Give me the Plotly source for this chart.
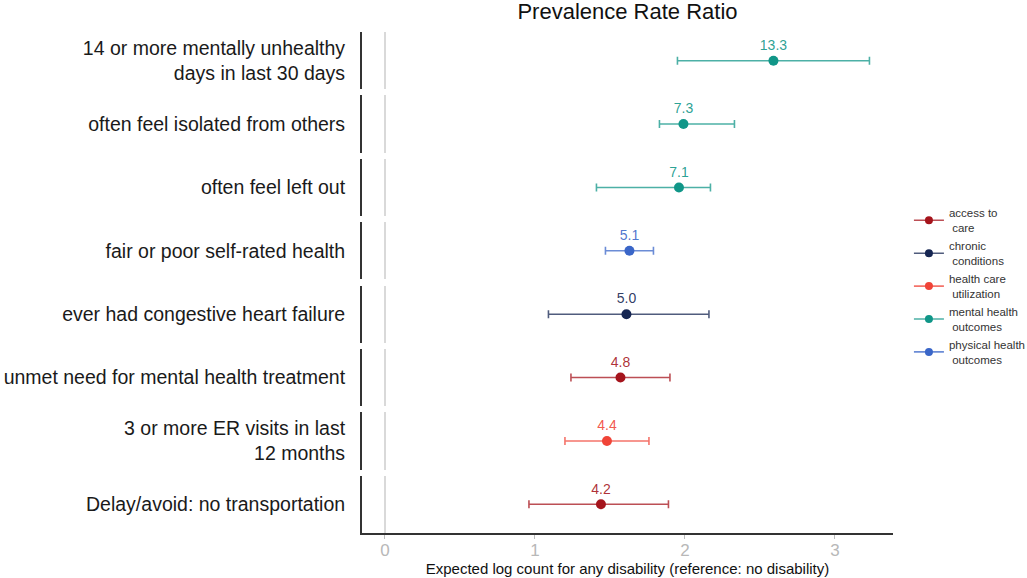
import plotly.graph_objects as go
from plotly.subplots import make_subplots

# ---- data ----
labels = [
    "14 or more mentally unhealthy<br>days in last 30 days",
    "often feel isolated from others",
    "often feel left out",
    "fair or poor self-rated health",
    "ever had congestive heart failure",
    "unmet need for mental health treatment",
    "3 or more ER visits in last<br>12 months",
    "Delay/avoid: no transportation",
]
groups = [
    "mental health<br> outcomes",
    "mental health<br> outcomes",
    "mental health<br> outcomes",
    "physical health<br> outcomes",
    "chronic<br> conditions",
    "access to<br> care",
    "health care<br> utilization",
    "access to<br> care",
]
prr_text = ["13.3", "7.3", "7.1", "5.1", "5.0", "4.8", "4.4", "4.2"]
log_est = [2.59, 1.99, 1.96, 1.63, 1.61, 1.57, 1.48, 1.44]
ci_lo = [1.95, 1.83, 1.41, 1.47, 1.09, 1.24, 1.20, 0.96]
ci_hi = [3.23, 2.33, 2.17, 1.79, 2.16, 1.90, 1.76, 1.89]
x_ticks = [0, 1, 2, 3]

group_order = [
    "access to<br> care",
    "chronic<br> conditions",
    "health care<br> utilization",
    "mental health<br> outcomes",
    "physical health<br> outcomes",
]
group_colors = {
    "access to<br> care": (165, 20, 28),
    "chronic<br> conditions": (22, 38, 82),
    "health care<br> utilization": (240, 68, 56),
    "mental health<br> outcomes": (16, 150, 136),
    "physical health<br> outcomes": (58, 102, 200),
}

def rgb(c, a=1.0):
    return f"rgba({c[0]},{c[1]},{c[2]},{a})"

FONT = "Arial, Liberation Sans, sans-serif"
n = len(labels)
fig = make_subplots(rows=n, cols=1, shared_xaxes=True, vertical_spacing=0.012)

for i in range(n):
    g = groups[i]
    c = group_colors[g]
    fig.add_trace(
        go.Scatter(
            x=[log_est[i]], y=[0],
            mode="markers+text",
            text=[prr_text[i]],
            textposition="top center",
            textfont=dict(family=FONT, size=14, color=rgb(c, 0.9)),
            marker=dict(size=10, color=rgb(c)),
            error_x=dict(
                type="data", symmetric=False,
                array=[ci_hi[i] - log_est[i]],
                arrayminus=[log_est[i] - ci_lo[i]],
                color=rgb(c, 0.75), thickness=1.6, width=4,
            ),
            showlegend=False,
            hoverinfo="skip",
        ),
        row=i + 1, col=1,
    )

# legend entries
for k, g in enumerate(group_order):
    c = group_colors[g]
    fig.add_trace(
        go.Scatter(
            x=[None], y=[None], mode="lines+markers", name=g,
            line=dict(color=rgb(c, 0.75), width=1.6),
            marker=dict(size=8, color=rgb(c)),
            legendrank=k + 1,
        ),
        row=1, col=1,
    )

for i in range(n):
    r = i + 1
    fig.update_yaxes(
        row=r, col=1,
        range=[-1, 1], tickvals=[0], ticktext=[labels[i]],
        showline=True, linecolor="#333333", linewidth=2,
        ticks="", showgrid=False, zeroline=False,
        ticklabelstandoff=11, automargin=False,
        tickfont=dict(family=FONT, size=19.5, color="#1a1a1a"),
        fixedrange=True,
    )
    last = r == n
    fig.update_xaxes(
        row=r, col=1,
        range=[-0.153, 3.387],
        showgrid=False, automargin=False,
        zeroline=True, zerolinecolor="#d9d9d9", zerolinewidth=2,
        showline=last, linecolor="#333333", linewidth=2,
        showticklabels=last,
        tickvals=x_ticks,
        ticks="outside" if last else "", ticklen=4, tickcolor="#bdbdbd",
        ticklabelstandoff=-3,
        tickfont=dict(family=FONT, size=17, color="#b8b8b8"),
        fixedrange=True,
    )

fig.update_xaxes(
    row=n, col=1,
    title=dict(
        text="Expected log count for any disability (reference: no disability)",
        font=dict(family=FONT, size=15, color="#111111"), standoff=0,
    ),
)

fig.update_layout(
    width=1027, height=578,
    margin=dict(l=362, r=134, t=32, b=45, autoexpand=False),
    paper_bgcolor="white", plot_bgcolor="white",
    title=dict(
        text="Prevalence Rate Ratio", x=0.5, xref="paper",
        y=1 - 11 / 578, yref="container", yanchor="middle",
        font=dict(family=FONT, size=22, color="#111111"),
    ),
    legend=dict(
        x=1.03, y=0.667, xanchor="left", yanchor="top",
        font=dict(family=FONT, size=11.5, color="#333333"),
        itemwidth=30, tracegroupgap=0, bgcolor="rgba(0,0,0,0)",
    ),
    font=dict(family=FONT),
)

fig.write_html(
    "out.html",
    config={"displayModeBar": False},
    post_script="document.body.style.margin='0';",
)
